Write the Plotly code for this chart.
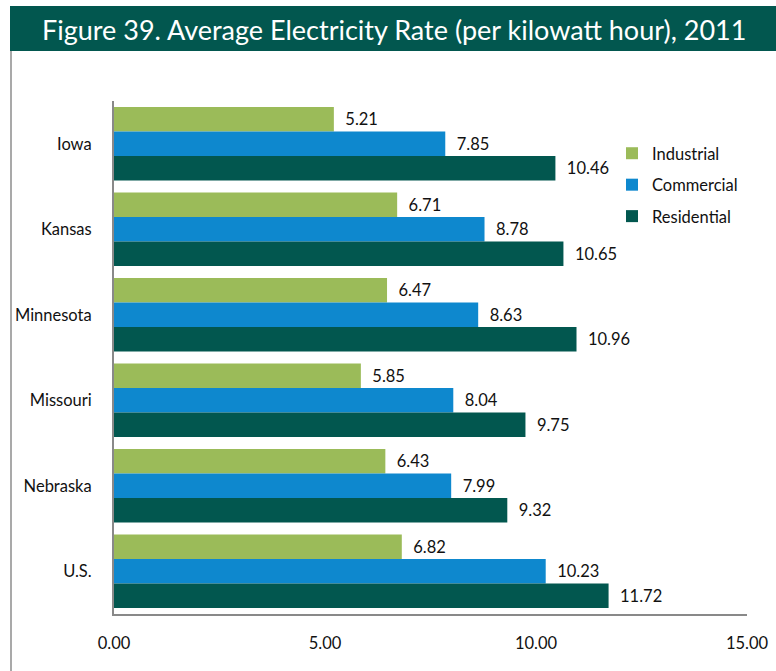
import plotly.graph_objects as go

# Average electricity rate, cents per kilowatt hour, 2011
states = ["Iowa", "Kansas", "Minnesota", "Missouri", "Nebraska", "U.S."]
industrial = [5.21, 6.71, 6.47, 5.85, 6.43, 6.82]
commercial = [7.85, 8.78, 8.63, 8.04, 7.99, 10.23]
residential = [10.46, 10.65, 10.96, 9.75, 9.32, 11.72]

series = [
    ("Industrial", industrial, "#9BBB59"),
    ("Commercial", commercial, "#0E88CE"),
    ("Residential", residential, "#02574F"),
]

FONT = "Lato, 'Open Sans', sans-serif"
DARK = "#02574F"
FS = 16.5

fig = go.Figure()
for i, (name, vals, color) in enumerate(series):
    fig.add_trace(go.Bar(
        name=name,
        y=states,
        x=vals,
        orientation="h",
        marker=dict(color=color, line=dict(width=0)),
        text=vals,
        texttemplate="  %{x:.2f}",
        textposition="outside",
        textfont=dict(family=FONT, size=FS, color="#111"),
        cliponaxis=False,
        legendgroup=f"g{i}",
    ))

# plot area geometry in pixels
W, H = 776, 671
L, R, T, B = 114, 29, 101, 57
pw, ph = W - L - R, H - T - B


def px_x(x):
    return (x - L) / pw


def px_y(y):
    return (H - B - y) / ph


fig.update_layout(
    width=W, height=H,
    margin=dict(l=L, r=R, t=T, b=B, autoexpand=False),
    paper_bgcolor="white",
    plot_bgcolor="white",
    barmode="group",
    bargap=0.14,
    bargroupgap=0,
    font=dict(family=FONT, size=FS, color="#111"),
    showlegend=True,
    legend=dict(
        x=px_x(612), y=px_y(136), xanchor="left", yanchor="top",
        traceorder="grouped", tracegroupgap=7,
        font=dict(family=FONT, size=FS, color="#111"),
        itemwidth=30, bgcolor="rgba(0,0,0,0)",
    ),
    xaxis=dict(
        range=[0, 15], dtick=5, tickformat=".2f",
        showgrid=False, zeroline=False, automargin=False,
        showline=True, linecolor="#898989", linewidth=2,
        ticks="", ticklabelstandoff=13,
        tickfont=dict(family=FONT, size=FS, color="#111"),
    ),
    yaxis=dict(
        autorange="reversed",
        showgrid=False, zeroline=False, automargin=False,
        showline=True, linecolor="#898989", linewidth=2,
        ticks="", ticklabelstandoff=17,
        tickfont=dict(family=FONT, size=FS, color="#111"),
    ),
    shapes=[
        dict(type="rect", xref="paper", yref="paper",
             x0=px_x(10), x1=px_x(776), y0=px_y(51), y1=px_y(6),
             fillcolor=DARK, line=dict(width=0), layer="above"),
        dict(type="line", xref="paper", yref="paper",
             x0=px_x(11), x1=px_x(11), y0=px_y(51), y1=px_y(671),
             line=dict(color="#8c8c8c", width=1.5)),
    ],
    annotations=[
        dict(text="Figure 39. Average Electricity Rate (per kilowatt hour), 2011",
             xref="paper", yref="paper", x=px_x(394), y=px_y(29),
             xanchor="center", yanchor="middle", showarrow=False,
             font=dict(family=FONT, size=27, color="white")),
    ],
)

fig.write_html("out.html")
